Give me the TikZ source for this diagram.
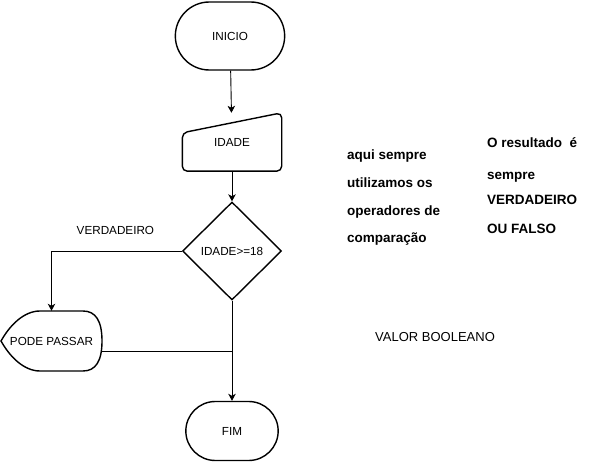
\documentclass[tikz,border=0pt]{standalone}
\usepackage{fontspec}
\setmainfont{Liberation Sans}
\usepackage{tikz}
\usetikzlibrary{arrows.meta,shapes.geometric,shapes.misc}

\begin{document}
\begin{tikzpicture}[x=1pt,y=-1pt,
  shape line/.style={draw,line width=1.4pt},
  lbl/.style={font=\fontsize{11.7}{14}\selectfont},
  note/.style={font=\fontsize{13.5}{16}\selectfont\bfseries,anchor=base west,inner sep=0pt},
  arr/.style={-{Stealth[length=7pt,width=7.5pt,inset=2pt]},line width=0.9pt},
  conn/.style={line width=0.9pt}]
\useasboundingbox (0,0) rectangle (602,462);
% start / end
\node (inicio) at (230,36) [rounded rectangle,shape line,minimum width=116pt,minimum height=68pt,lbl] {INICIO};
\node (fim) at (232,431) [rounded rectangle,shape line,minimum width=99pt,minimum height=59pt,lbl] {FIM};
% input
\node (idade) at (232,142) [minimum width=99pt,minimum height=58pt,lbl] {IDADE};
\draw[shape line,rounded corners=5pt] (idade.south west) -- (idade.south east) -- (idade.north east) -- ([yshift=-20pt]idade.north west) -- cycle;
% decision
\node (cond) at (232,251) [diamond,shape line,aspect=1,inner sep=0pt,minimum width=99pt,minimum height=98pt,lbl] {IDADE>=18};
% display
\draw[shape line] (1,341) .. controls (10,325) and (24,311) .. (40,311) -- (83,311)
  .. controls (95.7,311) and (102,321) .. (102,341)
  .. controls (102,361) and (95.7,371) .. (83,371) -- (40,371)
  .. controls (24,371) and (10,357) .. (1,341) -- cycle;
\node (pode) at (51.5,341) [minimum width=101pt,minimum height=60pt,lbl] {PODE PASSAR};
\coordinate (junc) at (232,351);
% connectors
\draw[arr] (inicio) -- (idade);
\draw[arr] (idade) -- (cond);
\draw[arr] (cond.west) -| (pode.north);
\draw[conn] ([yshift=-10pt,xshift=-1pt]pode.east) -- (junc);
\draw[arr] (cond.south) -- (fim.north);
\node (verd) at (76.5,235) [anchor=base west,inner sep=0pt,lbl] {VERDADEIRO};
% notes
\node (aqui1) at (347,160) [note] {aqui sempre};
\node (aqui2) at (347,188) [note] {utilizamos os};
\node (aqui3) at (347,215.5) [note] {operadores de};
\node (aqui4) at (347,242.5) [note] {comparação};
\node (res1) at (487,147.3) [note] {O resultado\ \ é};
\node (res2) at (487,180) [note] {sempre};
\node (res3) at (487,205) [note] {VERDADEIRO};
\node (res4) at (487,233.7) [note] {OU FALSO};
\node (bool) at (375,341) [anchor=base west,inner sep=0pt,font=\fontsize{13}{15}\selectfont] {VALOR BOOLEANO};
\end{tikzpicture}
\end{document}
